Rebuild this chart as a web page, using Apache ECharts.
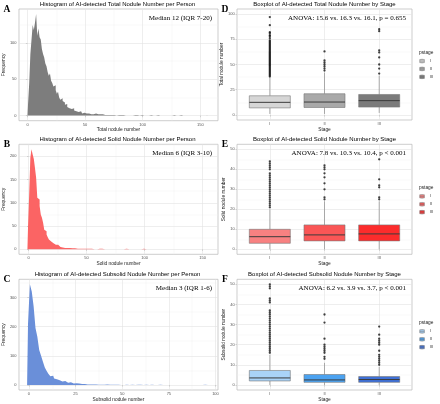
<!DOCTYPE html>
<html><head><meta charset="utf-8">
<script src="https://cdn.jsdelivr.net/npm/echarts@6/dist/echarts.min.js"></script>
<style>html,body{margin:0;padding:0;background:#fff}#c{width:440px;height:404px}</style>
</head><body><div id="c"></div>
<script>
// ---------- DATA ----------
// Histogram A: total nodule number per person (bins of width 1, starting at totalStart)
const totalStart = 1;
const totalFreq = [
 17,45,85,105,125,118,128,140,110,120,
 108,105,92,85,80,72,68,60,55,58,
 48,45,40,42,35,30,33,25,22,24,
 20,18,15,16,12,10,12,9,8,10,
 7,6,8,5,4,6,5,3,4,5,
 3,2,3,4,2,3,2,1,3,2,
 2,1,2,1,2,1,1,2,1,1,
 1,2,1,0,1,1,0,1,1,0,
 1,0,1,0,0,1,0,1,0,1,
 0,0,1,0,1,0,0,0,1,0,
 0,1,0,0,0,0,1,0,0,0,
 0,0,1,0,0,0,0,0,0,1,
 0,0,0,0,0,0,1,0,0,0,
 0,0,1,0,0,0,0,0,0,0,
 0,0,0,0,0,0,0,0,0,0,
 0,0,0,0,0,0,1
];
// Histogram B: solid nodule number
const solidStart = 0;
const solidFreq = [
 48,118,197,215,204,194,175,154,111,107,
 93,75,68,57,42,39,32,26,21,17,
 16,13,12,10,9,10,7,6,5,6,
 4,5,3,4,3,2,3,2,2,1,
 2,1,1,2,1,1,0,1,1,0,
 1,0,1,0,1,1,0,0,1,0,
 0,1,0,0,1,0,0,0,0,1,
 0,0,0,1,0,0,0,1,0,0,
 0,0,0,0,1,0,0,0,0,0,
 0,0,0,0,0,0,0,0,0,1,
 0,0,0,0,0,0,0,0,0,0,
 0,0,0,0,0,0,0,0,0,0,
 0,0,0,0,0,0,0,0,0,0,
 0,0,0,0,0,0,0,0,0,0,
 0,0,0,0,0,0,0,0,0,0,
 0,0,0,0,1,0
];
// Histogram C: subsolid nodule number
const subStart = 0;
const subFreq = [
 210,345,320,270,195,165,120,100,80,60,
 48,38,30,32,22,20,16,17,12,14,
 10,8,9,6,5,6,4,5,3,4,
 3,2,3,2,2,1,2,1,2,1,
 1,1,2,1,0,1,1,0,1,0,
 1,0,1,1,0,1,0,0,1,0,
 1,0,0,1,0,0,1,0,0,0,
 1,0,0,0,1,0,0,0,0,0,
 0,0,0,1,0,0,0,0,0,0,
 0,0,0,0,1,0,1
];
const stages = ['I','II','III'];
// boxplot stats: [min whisker, Q1, median, Q3, max whisker] per stage
const totalBox = [[1,7,12.5,19,37],[1,7.4,12.8,21,42],[2,7.8,14.2,20.3,39]];
const totalOut = [
 [38,39,40,41,42,43,44,45,46,47,48,49,50,51,52,53,54,55,56,57,58,59,60,61,62,63,64,65,66,67,68,69,70,71,72,73,74,76,78,79,81,82,89,97],
 [44,46,48,50,52,54,63],
 [41,46,50,57,62,64,83,85]
];
const solidBox = [[0,3,6.3,10,20],[0,4.2,7.2,12.2,24],[0,4.2,7.7,12.2,24]];
const solidOut = [
 [21,22,23,24,25,26,27,28,29,30,31,32,33,34,35,36,37,38,40,41,42,43,44],
 [25,26,30,33,36,38,40,41,42],
 [25,26,31,32,35,45]
];
const subBox = [[0,2,3.5,7.2,15],[0,1.3,2.5,5.2,11],[0,1.3,2.7,4.2,9]];
const subOut = [
 [16,17,18,19,20,21,22,23,24,25,26,27,28,29,30,31,32,33,34,35,36,37,41,42,43,48,49,50],
 [13,14,16,17,18,19,20,23,31,35],
 [10,11,12,13,14,15,17,20,21,22,23,25,29]
];
// tick labels
const histXTicksAB = [0,50,100,150];
const histXTicksC = [0,25,50,75,100];
const histYTicksA = [0,50,100];
const histYTicksB = [0,50,100,150,200];
const histYTicksC = [0,100,200,300];
const boxYTicksD = [0,25,50,75,100];
const boxYTicksEF = [0,10,20,30,40,50];
const stageTicks = [1,2,3];

// ---------- STYLE ----------
const SANS = '"Liberation Sans", Arial, sans-serif';
const SERIF = '"Liberation Serif", "Times New Roman", serif';
const BORDER='#b8b8b8', MAJ='#e2e2e2', MIN='#f0f0f0', TICK='#b3b3b3', LBL='#555555';

const grids = [
 {left:17, top:9, width:201, height:111.7},
 {left:17, top:144.3, width:201, height:110},
 {left:17, top:279.3, width:201, height:110.7},
 {left:237, top:9, width:175, height:111},
 {left:237, top:144.3, width:175, height:110},
 {left:237, top:279.3, width:175, height:110.7}
].map(g => Object.assign(g, {show:true, borderColor:BORDER, borderWidth:0.7, backgroundColor:'#fff', containLabel:false}));

const xAxes=[], yAxes=[], series=[], graphics=[], legends=[];

function mkAxis(dim, gi, min, max, labels, name, nameGap, fmt) {
  return {
    type:'value', gridIndex:gi, min:min, max:max,
    splitLine:{show:false}, axisLine:{show:false},
    axisTick:{show:true, customValues:labels, length:1.6, lineStyle:{color:TICK, width:0.5}},
    axisLabel:{customValues:labels, fontSize:4, color:LBL, margin:(dim==='x'?1.8:2.4), fontFamily:SANS,
      formatter: fmt || (v => String(v))},
    name:name, nameLocation:'middle', nameGap:nameGap,
    nameTextStyle:{fontSize:4.8, color:'#1a1a1a', fontFamily:SANS}
  };
}
function gridLines(gi, xMaj, xMin, yMaj, yMin) {
  const d = [];
  xMin.forEach(v => d.push({xAxis:v, lineStyle:{color:MIN, width:0.4, type:'solid'}}));
  yMin.forEach(v => d.push({yAxis:v, lineStyle:{color:MIN, width:0.4, type:'solid'}}));
  xMaj.forEach(v => d.push({xAxis:v, lineStyle:{color:MAJ, width:0.6, type:'solid'}}));
  yMaj.forEach(v => d.push({yAxis:v, lineStyle:{color:MAJ, width:0.6, type:'solid'}}));
  series.push({type:'line', xAxisIndex:gi, yAxisIndex:gi, data:[], silent:true, z:0,
    markLine:{silent:true, z:0, zlevel:0, symbol:['none','none'], label:{show:false}, animation:false, data:d}});
}
function mids(t){ const r=[]; for(let i=0;i<t.length;i++){ r.push(t[i] + (t[1]-t[0])/2); } return r; }

// ---------- HISTOGRAMS (stepped filled outline of width-1 bins) ----------
const hists = [
 {start:totalStart, freq:totalFreq, color:'#7d7d7d', xr:[-7.4,165.4], yr:[-7,147], xt:histXTicksAB, yt:histYTicksA, xname:'Total nodule number'},
 {start:solidStart, freq:solidFreq, color:'#fb6464', xr:[-8.3,163.3], yr:[-10.75,225.75], xt:histXTicksAB, yt:histYTicksB, xname:'Solid nodule number'},
 {start:subStart, freq:subFreq, color:'#6a8fd9', xr:[-5.35,101.35], yr:[-17.25,362.25], xt:histXTicksC, yt:histYTicksC, xname:'Subsolid nodule number'}
];
hists.forEach((h, gi) => {
  xAxes.push(mkAxis('x', gi, h.xr[0], h.xr[1], h.xt, h.xname, 5.5));
  yAxes.push(mkAxis('y', gi, h.yr[0], h.yr[1], h.yt, 'Frequency', 9.5));
  gridLines(gi, h.xt, mids(h.xt).filter(v=>v<h.xr[1]), h.yt, mids(h.yt).filter(v=>v<h.yr[1]));
  const pts = [[h.start - 1, 0]].concat(h.freq.map((f,i)=>[h.start+i, f]), [[h.start + h.freq.length, 0]]);
  series.push({type:'line', step:'middle', xAxisIndex:gi, yAxisIndex:gi, z:2, silent:true,
    symbol:'none', showSymbol:false, lineStyle:{width:0, color:h.color},
    areaStyle:{color:h.color, opacity:1, origin:'auto'}, itemStyle:{color:h.color},
    data:pts});
});

// ---------- BOXPLOTS ----------
const boxes = [
 {box:totalBox, out:totalOut, colors:['#d6d6d6','#a9a9a9','#7b7b7b'], yr:[-5,105], yt:boxYTicksD, yname:'Total nodule number', key:'D'},
 {box:solidBox, out:solidOut, colors:['#f88181','#fa5656','#fc2c2c'], yr:[-2.5,52.5], yt:boxYTicksEF, yname:'Solid nodule number', key:'E'},
 {box:subBox, out:subOut, colors:['#a9d3f8','#4ba2f0','#3f70d5'], yr:[-2.5,52.5], yt:boxYTicksEF, yname:'Subsolid nodule number', key:'F'}
];
function renderBox(params, api) {
  const x = api.value(0);
  const mn = api.value(1), q1 = api.value(2), md = api.value(3), q3 = api.value(4), mx = api.value(5);
  const hw = 0.375;
  const tl = api.coord([x-hw, q3]), br = api.coord([x+hw, q1]);
  const pMin = api.coord([x, mn]), pQ1 = api.coord([x, q1]), pQ3 = api.coord([x, q3]), pMax = api.coord([x, mx]);
  const mL = api.coord([x-hw, md]), mR = api.coord([x+hw, md]);
  const col = api.visual('color');
  return {type:'group', children:[
    {type:'line', shape:{x1:pMin[0], y1:pMin[1], x2:pQ1[0], y2:pQ1[1]}, style:{stroke:'#8a8a8a', lineWidth:0.7}},
    {type:'line', shape:{x1:pQ3[0], y1:pQ3[1], x2:pMax[0], y2:pMax[1]}, style:{stroke:'#8a8a8a', lineWidth:0.7}},
    {type:'rect', shape:{x:tl[0], y:tl[1], width:br[0]-tl[0], height:br[1]-tl[1]}, style:{fill:col, stroke:'#777777', lineWidth:0.6}},
    {type:'line', shape:{x1:mL[0], y1:mL[1], x2:mR[0], y2:mR[1]}, style:{stroke:'#3c3c3c', lineWidth:1}}
  ]};
}
boxes.forEach((b, k) => {
  const gi = 3 + k;
  xAxes.push(mkAxis('x', gi, 0.4, 3.6, stageTicks, 'Stage', 5.5, v => stages[v-1] || ''));
  yAxes.push(mkAxis('y', gi, b.yr[0], b.yr[1], b.yt, b.yname, 9.5));
  gridLines(gi, stageTicks, [], b.yt, mids(b.yt).filter(v=>v<b.yr[1]));
  const names = [];
  stages.forEach((s, si) => {
    const nm = b.key + '-' + s;
    names.push(nm);
    series.push({type:'custom', name:nm, xAxisIndex:gi, yAxisIndex:gi, z:3,
      itemStyle:{color:b.colors[si]},
      encode:{x:0, y:[1,2,3,4,5]},
      renderItem:renderBox,
      data:[[si+1].concat(b.box[si])]});
  });
  const pts = [];
  b.out.forEach((arr, si) => arr.forEach(v => pts.push([si+1, v])));
  series.push({type:'scatter', xAxisIndex:gi, yAxisIndex:gi, z:4, symbolSize:2.3, silent:true,
    itemStyle:{color:'#111'}, data:pts});
  legends.push({left:419.5, top:grids[gi].top + 49.5, orient:'vertical', padding:0,
    itemWidth:6, itemHeight:4.6, itemGap:2.8, selectedMode:false,
    icon:'path://M0,1.5H10V8.5H0Z M0,5H10 M5,0V1.5 M5,8.5V10',
    itemStyle:{borderColor:'#6f6f6f', borderWidth:0.5},
    textStyle:{fontSize:4, color:'#333', fontFamily:SANS, lineHeight:5},
    formatter: n => n.split('-')[1],
    data:names});
});

// ---------- TEXTS ----------
function txt(x, y, text, font, align, fill) {
  graphics.push({type:'text', x:x, y:y, silent:true, z:10,
    style:{text:text, font:font, fill:fill||'#000', textAlign:align||'center', textVerticalAlign:'middle', align:align||'center', verticalAlign:'middle'}});
}
const titles = [
 'Histogram of AI-detected Total Nodule Number per Person',
 'Histogram of AI-detected Solid Nodule Number per Person',
 'Histogram of AI-detected Subsolid Nodule Number per Person',
 'Boxplot of AI-detected Total Nodule Number by Stage',
 'Boxplot of AI-detected Solid Nodule Number by Stage',
 'Boxplot of AI-detected Subsolid Nodule Number by Stage'
];
const letters = ['A','B','C','D','E','F'];
const notes = ['Median 12 (IQR 7-20)','Median 6 (IQR 3-10)','Median 3 (IQR 1-6)',
 'ANOVA: 15.6 vs. 16.3 vs. 16.1, p = 0.655','ANOVA: 7.8 vs. 10.3 vs. 10.4, p < 0.001','ANOVA: 6.2 vs. 3.9 vs. 3.7, p < 0.001'];
grids.forEach((g, i) => {
  const cx = g.left + g.width/2;
  txt(cx, g.top - 4.8, titles[i], '6px ' + SANS, 'center');
  txt(i < 3 ? 7 : 225, g.top + 0.2, letters[i], 'bold 9.5px ' + SERIF, 'center');
  txt(i < 3 ? 212 : 406, g.top + 9, notes[i], '7px ' + SERIF, 'right');
  if (i >= 3) txt(419, g.top + 43.3, 'pstage', '4.8px ' + SANS, 'left', '#222');
});

const chart = echarts.init(document.getElementById('c'), null, {renderer:'canvas'});
chart.setOption({
  animation:false, backgroundColor:'#fff',
  grid:grids, xAxis:xAxes, yAxis:yAxes, series:series, legend:legends, graphic:graphics
});
</script></body></html>
